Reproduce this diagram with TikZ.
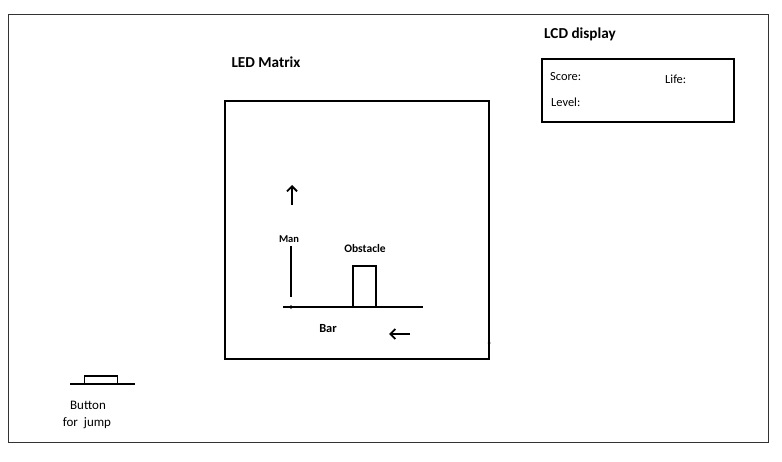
\documentclass[tikz,border=0pt]{standalone}
\usepackage{fontspec}
\setmainfont{Carlito}
\usetikzlibrary{arrows.meta}
\begin{document}
\begin{tikzpicture}[x=1pt,y=-1pt,
  frame/.style={draw=black!80,line width=1pt},
  thick box/.style={draw=black,line width=2.6pt},
  stroke/.style={draw=black,line width=2.2pt},
  title/.style={font=\bfseries\fontsize{15.2}{17}\selectfont,inner sep=0pt},
  lbl/.style={font=\fontsize{12.4}{14}\selectfont,inner sep=0pt},
  small/.style={font=\bfseries\fontsize{10.5}{12}\selectfont,inner sep=0pt},
  arr/.style={draw=black,line width=1.8pt,-{Straight Barb[length=5pt,width=10pt,line width=1.8pt]}}]
\useasboundingbox (0,0) rectangle (782,462);
\draw[frame] (8.5,14.5) rectangle (768,442);
% LED matrix
\node[title] (ledlbl) at (266,62) {LED Matrix};
\draw[thick box] (225,101) rectangle (489,359);
\fill (489,343) circle (1.5);
% LCD
\node[title] (lcdlbl) at (580,34) {LCD display};
\draw[thick box] (542,59) rectangle (734,122);
\node[lbl,anchor=west] (score) at (550,77) {Score:};
\node[lbl,anchor=west] (life) at (665,79) {Life:};
\node[lbl,anchor=west] (level) at (551,102) {Level:};
% man
\coordinate (upb) at (292,205);
\coordinate (upt) at (292,185);
\draw[arr] (upb) -- (upt);
\node[small] (man) at (289,239) {Man};
\draw[stroke] (291,246) -- (291,297);
% bar
\coordinate (barl) at (283,307);
\coordinate (barr) at (423,307);
\draw[stroke] (barl) -- (barr);
\fill (291,307) circle (1.8);
% obstacle
\node[small,font=\bfseries\fontsize{11.5}{13}\selectfont] (obs) at (365,249) {Obstacle};
\draw[draw=black,line width=2.4pt] (353,306) -- (353,266) -- (376,266) -- (376,306);
\node[font=\bfseries\fontsize{12.4}{14}\selectfont,inner sep=0pt] (bar) at (328,329) {Bar};
\coordinate (lb) at (410,334);
\coordinate (lt) at (389,334);
\draw[arr] (lb) -- (lt);
% button
\draw[draw=black,line width=2pt] (70,384) -- (135,384);
\draw[draw=black,line width=1.8pt] (84.5,384) -- (84.5,376) -- (117.5,376) -- (117.5,384);
\node[lbl,font=\fontsize{13}{15}\selectfont] (btn) at (88,405) {Button};
\node[lbl,font=\fontsize{13}{15}\selectfont] (jump) at (87,423) {for\ \ jump};
\end{tikzpicture}
\end{document}
